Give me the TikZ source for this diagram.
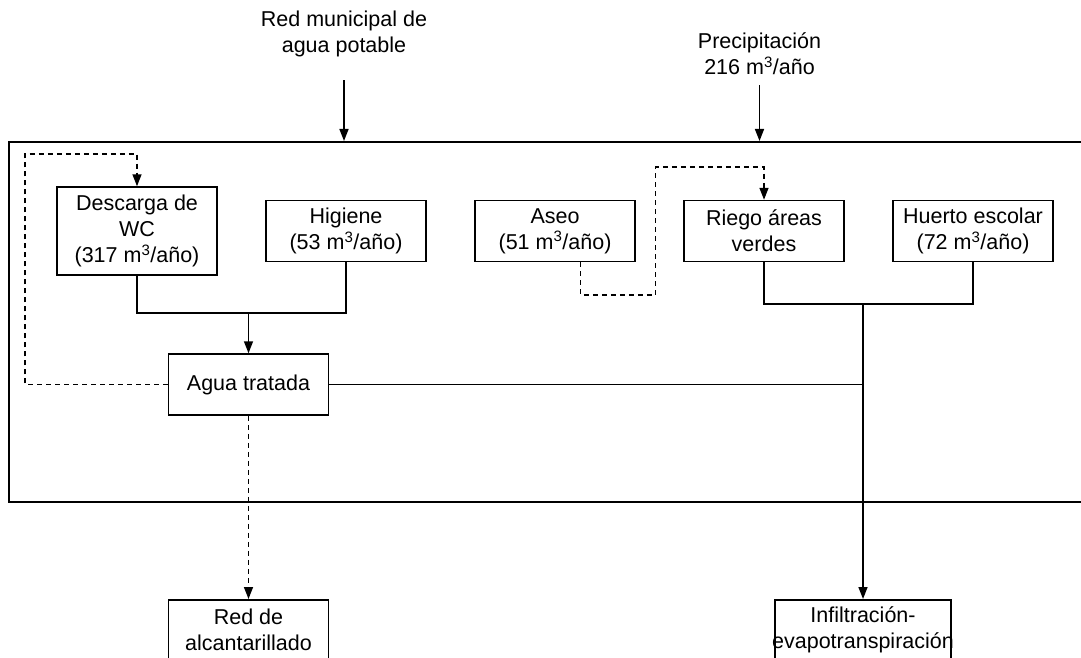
\documentclass[tikz,border=0pt]{standalone}
\usepackage{fontspec}
\setmainfont{Liberation Sans}
\usepackage{tikz}
\usetikzlibrary{arrows.meta, calc, positioning}

\begin{document}
\begin{tikzpicture}[x=1pt, y=-1pt, >={Triangle[length=12pt, width=9pt]},
    node distance=47.5pt,
    every node/.style={font=\fontsize{21.5}{26}\selectfont},
    caja/.style={draw, line width=1.5pt, align=center, minimum width=160pt, minimum height=61pt, inner sep=0pt},
    linea/.style={line width=1.5pt},
    flujo/.style={->, line width=1.5pt},
    reuso/.style={->, line width=1.5pt, dash pattern=on 5pt off 4pt}]
    \useasboundingbox (0,0) rectangle (1081,658);

    % Planta
    \node[draw, line width=1.5pt, minimum width=1080pt, minimum height=360pt, inner sep=0pt, anchor=north west] (planta) at (8,141) {};

    % Entradas
    \node[align=center] (red) at (344,34) {Red municipal de\\agua potable};
    \node[align=center] (lluvia) at (759.5,54) {Precipitación\\216 m\textsuperscript{3}/año};
    \draw[flujo] ([yshift=-19.5pt]red.south) -- (red.south |- planta.north);
    \draw[flujo] ([yshift=-6.5pt]lluvia.south) -- (lluvia.south |- planta.north);

    % Usos
    \node[caja, minimum height=88pt] (wc) at (137,231) {Descarga de\\WC\\(317 m\textsuperscript{3}/año)};
    \node[caja, right=of wc] (higiene) {Higiene\\(53 m\textsuperscript{3}/año)};
    \node[caja, right=of higiene] (aseo) {Aseo\\(51 m\textsuperscript{3}/año)};
    \node[caja, right=of aseo] (riego) {Riego áreas\\verdes};
    \node[caja, right=of riego] (huerto) {Huerto escolar\\(72 m\textsuperscript{3}/año)};
    \node[caja] (tratada) at (248.5,384.5) {Agua tratada};

    % Salidas
    \node[caja, anchor=north] (alcantarillado) at (248.5,599) {Red de\\alcantarillado};
    \node[caja, minimum width=176pt, anchor=north] (infiltracion) at (863,599) {Infiltración-\\\makebox[176pt]{evapotranspiración}};

    % Flujos
    \coordinate (union1) at (248.5,313);
    \draw[linea] (wc.south) |- (union1) -| (higiene.south);
    \draw[flujo] (union1) -- (tratada.north);
    \coordinate (union2) at (863,304);
    \draw[linea] (riego.south) |- (union2) -| (huerto.south);
    \draw[linea] (tratada.east) -- (tratada.east -| union2);
    \draw[flujo] (union2) -- (infiltracion.north);

    % Reuso
    \coordinate (retorno) at (25,154);
    \draw[reuso] (tratada.west) -| (retorno) -| (wc.north);
    \coordinate (desvio) at (655.5,295);
    \coordinate (puente) at (655.5,167);
    \draw[reuso] ([xshift=25.5pt]aseo.south) |- (desvio) -- (puente) -| (riego.north);
    \draw[reuso] (tratada.south) -- (alcantarillado.north);
\end{tikzpicture}
\end{document}
